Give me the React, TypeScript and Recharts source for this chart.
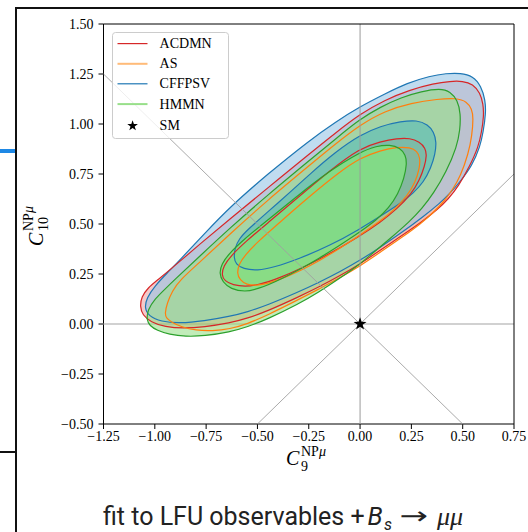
import React from 'react';
import { ScatterChart, Scatter, XAxis, YAxis, Legend, Curve } from 'recharts';

type Pt = [number, number];

// ---------- data ----------
const X_TICKS = [-1.25, -1.0, -0.75, -0.5, -0.25, 0, 0.25, 0.5, 0.75];
const Y_TICKS = [-0.5, -0.25, 0, 0.25, 0.5, 0.75, 1.0, 1.25, 1.5];
const X_DOMAIN: [number, number] = [-1.25, 0.75];
const Y_DOMAIN: [number, number] = [-0.5, 1.5];

const LEGEND_LABELS = ['ACDMN', 'AS', 'CFFPSV', 'HMMN', 'SM'];
const SM_POINT: Pt[] = [[0, 0]];

// guide lines through the SM point
const H_LINE: Pt[] = [[-1.25, 0], [0.75, 0]];
const V_LINE: Pt[] = [[0, -0.5], [0, 1.5]];
const DIAG_DOWN: Pt[] = [[-1.25, 1.25], [0.5, -0.5]];
const DIAG_UP: Pt[] = [[-0.5, -0.5], [0.75, 0.75]];
const FRAME: Pt[] = [[-1.25, 1.5], [0.75, 1.5], [0.75, -0.5]];

// 2 sigma contours
const CFFPSV_2S: Pt[] = [
  [-1.05, 0.08], [-1.04, 0.13], [-1.0, 0.19], [-0.94, 0.255], [-0.878, 0.32], [-0.76, 0.45],
  [-0.634, 0.585], [-0.45, 0.75], [-0.244, 0.92], [-0.12, 1.01], [0, 1.087], [0.12, 1.15],
  [0.23, 1.205], [0.34, 1.24], [0.42, 1.253], [0.49, 1.255], [0.55, 1.24], [0.59, 1.19],
  [0.61, 1.12], [0.613, 1.055], [0.6, 0.96], [0.585, 0.887], [0.545, 0.79], [0.49, 0.715],
  [0.44, 0.655], [0.39, 0.605], [0.3, 0.53], [0.2, 0.455], [0.1, 0.385], [0, 0.318],
  [-0.1, 0.26], [-0.2, 0.208], [-0.3, 0.16], [-0.45, 0.095], [-0.55, 0.06], [-0.634, 0.038],
  [-0.76, 0.015], [-0.88, 0.003], [-0.97, 0.012], [-1.03, 0.04],
];
const ACDMN_2S: Pt[] = [
  [-1.072, 0.087], [-1.065, 0.135], [-1.035, 0.18], [-0.98, 0.225], [-0.91, 0.285], [-0.78, 0.4],
  [-0.634, 0.525], [-0.45, 0.68], [-0.244, 0.853], [-0.12, 0.955], [0, 1.05], [0.12, 1.12],
  [0.24, 1.17], [0.36, 1.203], [0.44, 1.214], [0.5, 1.215], [0.55, 1.2], [0.585, 1.155],
  [0.6, 1.1], [0.603, 1.04], [0.592, 0.96], [0.577, 0.887], [0.535, 0.79], [0.48, 0.69],
  [0.43, 0.625], [0.38, 0.575], [0.3, 0.51], [0.2, 0.44], [0.1, 0.37], [0, 0.3],
  [-0.1, 0.24], [-0.2, 0.185], [-0.3, 0.135], [-0.45, 0.065], [-0.55, 0.028], [-0.634, 0.005],
  [-0.76, -0.015], [-0.86, -0.022], [-0.95, -0.015], [-1.02, 0.01], [-1.06, 0.045],
];
const AS_2S: Pt[] = [
  [-0.951, 0.053], [-0.94, 0.105], [-0.915, 0.165], [-0.878, 0.22], [-0.78, 0.31], [-0.634, 0.45],
  [-0.45, 0.62], [-0.244, 0.795], [-0.12, 0.9], [0, 0.995], [0.12, 1.065], [0.25, 1.105],
  [0.38, 1.125], [0.47, 1.13], [0.52, 1.112], [0.545, 1.075], [0.552, 1.03], [0.545, 0.94],
  [0.528, 0.853], [0.49, 0.74], [0.45, 0.67], [0.41, 0.615], [0.36, 0.56], [0.3, 0.505],
  [0.2, 0.43], [0.1, 0.36], [0, 0.29], [-0.1, 0.23], [-0.2, 0.175], [-0.3, 0.122],
  [-0.45, 0.045], [-0.55, 0.0], [-0.634, -0.025], [-0.72, -0.035], [-0.8, -0.032], [-0.87, -0.015],
  [-0.92, 0.01], [-0.945, 0.03],
];
const HMMN_2S: Pt[] = [
  [-1.04, 0.02], [-1.035, 0.07], [-1.0, 0.125], [-0.95, 0.175], [-0.91, 0.215], [-0.78, 0.34],
  [-0.634, 0.48], [-0.45, 0.645], [-0.244, 0.82], [-0.12, 0.925], [0, 1.025], [0.1, 1.085],
  [0.2, 1.133], [0.3, 1.163], [0.39, 1.178], [0.44, 1.162], [0.475, 1.118], [0.49, 1.053],
  [0.487, 0.97], [0.472, 0.887], [0.42, 0.76], [0.358, 0.653], [0.3, 0.575], [0.244, 0.515],
  [0.15, 0.43], [0.05, 0.345], [0, 0.3], [-0.1, 0.228], [-0.2, 0.16], [-0.3, 0.1],
  [-0.45, 0.025], [-0.55, -0.015], [-0.634, -0.04], [-0.76, -0.06], [-0.85, -0.063],
  [-0.93, -0.052], [-0.99, -0.032], [-1.025, -0.008],
];

// 1 sigma contours
const CFFPSV_1S: Pt[] = [
  [-0.615, 0.33], [-0.61, 0.38], [-0.59, 0.425], [-0.55, 0.47], [-0.45, 0.56], [-0.34, 0.66],
  [-0.244, 0.75], [-0.12, 0.86], [0, 0.945], [0.1, 0.99], [0.2, 1.013], [0.277, 1.02],
  [0.33, 0.997], [0.36, 0.96], [0.372, 0.91], [0.366, 0.85], [0.345, 0.78], [0.31, 0.71],
  [0.26, 0.655], [0.2, 0.605], [0.1, 0.54], [0, 0.475], [-0.15, 0.39], [-0.3, 0.325],
  [-0.42, 0.283], [-0.5, 0.267], [-0.57, 0.275], [-0.605, 0.3],
];
const ACDMN_1S: Pt[] = [
  [-0.675, 0.245], [-0.665, 0.29], [-0.63, 0.34], [-0.56, 0.41], [-0.45, 0.505], [-0.3, 0.635],
  [-0.15, 0.765], [0, 0.88], [0.1, 0.912], [0.18, 0.928], [0.244, 0.93], [0.29, 0.91],
  [0.318, 0.88], [0.325, 0.845], [0.315, 0.79], [0.29, 0.72], [0.25, 0.65], [0.18, 0.575],
  [0.1, 0.51], [0, 0.44], [-0.2, 0.32], [-0.4, 0.225], [-0.5, 0.195], [-0.56, 0.187],
  [-0.62, 0.195], [-0.66, 0.215],
];
const AS_1S: Pt[] = [
  [-0.6, 0.253], [-0.59, 0.3], [-0.56, 0.345], [-0.5, 0.41], [-0.4, 0.5], [-0.25, 0.635],
  [-0.1, 0.76], [0, 0.83], [0.1, 0.868], [0.18, 0.885], [0.244, 0.883], [0.278, 0.865],
  [0.293, 0.83], [0.29, 0.78], [0.27, 0.71], [0.23, 0.64], [0.17, 0.575], [0.1, 0.515],
  [0, 0.445], [-0.2, 0.31], [-0.4, 0.215], [-0.5, 0.19], [-0.555, 0.197], [-0.585, 0.22],
];
const HMMN_1S: Pt[] = [
  [-0.686, 0.253], [-0.675, 0.3], [-0.64, 0.35], [-0.57, 0.42], [-0.45, 0.52], [-0.3, 0.645],
  [-0.15, 0.765], [0, 0.86], [0.08, 0.89], [0.146, 0.897], [0.195, 0.88], [0.222, 0.845],
  [0.228, 0.8], [0.215, 0.73], [0.185, 0.65], [0.14, 0.58], [0.08, 0.52], [0, 0.46],
  [-0.2, 0.325], [-0.4, 0.215], [-0.5, 0.175], [-0.56, 0.16], [-0.63, 0.175], [-0.67, 0.21],
];

// ---------- styles ----------
const C_RED = '#d62728';
const C_ORANGE = '#ff7f0e';
const C_BLUE = '#1f77b4';
const C_GREEN = '#2ca02c';
const LEGEND_COLORS = ['#d62728', '#ffbb78', '#1f77b4', '#98df8a', '#000000'];
const LEGEND_WIDTHS = [1.2, 2, 1.2, 2, 0];

const SERIF = "'Liberation Serif', 'DejaVu Serif', serif";
const SANS = "Roboto, 'Noto Sans', sans-serif";

const toObjs = (a: Pt[]) => a.map(([x, y]) => ({ x, y }));

const fillLine = (fill: string) => (p: any) => (
  <Curve points={p.points} type="basisClosed" fill={fill} stroke="none" />
);
const strokeLine = (stroke: string, w: number) => (p: any) => (
  <Curve points={p.points} type="basisClosed" fill="none" stroke={stroke} strokeWidth={w} />
);
const segLine = (stroke: string, w: number) => (p: any) => (
  <Curve points={p.points} type="linear" fill="none" stroke={stroke} strokeWidth={w} />
);
const NoShape = () => <g />;

const starPoints = (cx: number, cy: number, R: number, r: number) => {
  const pts: string[] = [];
  for (let i = 0; i < 10; i++) {
    const a = -Math.PI / 2 + (i * Math.PI) / 5;
    const rad = i % 2 === 0 ? R : r;
    pts.push(`${(cx + rad * Math.cos(a)).toFixed(2)},${(cy + rad * Math.sin(a)).toFixed(2)}`);
  }
  return pts.join(' ');
};
const StarShape = (p: any) => <polygon points={starPoints(p.cx, p.cy, 6.8, 2.7)} fill="#000" />;

const fmt = (v: number) => (v < 0 ? '\u2212' : '') + Math.abs(v).toFixed(2);

const XLabel = () => {
  const x0 = 286;
  const base = 465;
  return (
    <g fontFamily={SERIF} fill="#000">
      <text x={x0} y={base} fontSize={20} fontStyle="italic">C</text>
      <text x={x0 + 15} y={base - 9} fontSize={14}>NP<tspan fontStyle="italic">μ</tspan></text>
      <text x={x0 + 15} y={base + 6} fontSize={14}>9</text>
    </g>
  );
};

const YLabel = () => (
  <g transform="translate(43, 246) rotate(-90)" fontFamily={SERIF} fill="#000">
    <text x={0} y={0} fontSize={20} fontStyle="italic">C</text>
    <text x={15} y={-10} fontSize={14}>NP<tspan fontStyle="italic">μ</tspan></text>
    <text x={15} y={5} fontSize={14}>10</text>
  </g>
);

const ROW_Y = [11.6, 31.8, 51.8, 72.1, 93.8];

const LegendBox = () => (
  <svg width={118} height={108} style={{ display: 'block' }}>
    <rect x={0.5} y={0.5} width={116} height={106} rx={3} ry={3} fill="#ffffff" fillOpacity={0.8} stroke="#cccccc" strokeWidth={1} />
    {LEGEND_LABELS.map((lab, i) => (
      <g key={lab}>
        {i < 4 ? (
          <line x1={5.5} x2={35.5} y1={ROW_Y[i]} y2={ROW_Y[i]} stroke={LEGEND_COLORS[i]} strokeWidth={LEGEND_WIDTHS[i]} />
        ) : (
          <polygon points={starPoints(20.6, ROW_Y[i], 5.6, 2.2)} fill="#000" />
        )}
        <text x={47.6} y={ROW_Y[i] + 4.6} fontFamily={SERIF} fontSize={14} fill="#000">{lab}</text>
      </g>
    ))}
  </svg>
);

export default function App() {
  return (
    <div style={{ position: 'absolute', left: 0, top: 0, width: 528, height: 532, overflow: 'hidden', background: '#fff' }}>
      <div style={{ position: 'absolute', left: 0, top: 0 }}>
        <ScatterChart width={528} height={532} margin={{ top: 24, right: 14, left: 43.5, bottom: 78 }}>
          <XAxis
            type="number"
            dataKey="x"
            domain={X_DOMAIN}
            ticks={X_TICKS}
            interval={0}
            tickFormatter={fmt}
            tick={{ fontFamily: SERIF, fontSize: 14, fill: '#000' }}
            tickSize={5}
            tickMargin={2}
            axisLine={{ stroke: '#000', strokeWidth: 1 }}
            tickLine={{ stroke: '#000', strokeWidth: 1 }}
            height={30}
            label={<XLabel />}
          />
          <YAxis
            type="number"
            dataKey="y"
            domain={Y_DOMAIN}
            ticks={Y_TICKS}
            interval={0}
            tickFormatter={fmt}
            tick={{ fontFamily: SERIF, fontSize: 14, fill: '#000' }}
            tickSize={5}
            tickMargin={5}
            axisLine={{ stroke: '#000', strokeWidth: 1 }}
            tickLine={{ stroke: '#000', strokeWidth: 1 }}
            width={60}
            label={<YLabel />}
          />
          <Legend
            layout="vertical"
            align="center"
            verticalAlign="middle"
            wrapperStyle={{ left: 111.7, top: 31.7, width: 118, height: 108 }}
            content={() => <LegendBox />}
          />

          <Scatter data={toObjs(H_LINE)} line={segLine('#c2c2c2', 1.6)} shape={NoShape} isAnimationActive={false} legendType="none" />

          <Scatter data={toObjs(ACDMN_2S)} line={fillLine('rgba(214,39,40,0.25)')} shape={NoShape} isAnimationActive={false} legendType="none" />
          <Scatter data={toObjs(AS_2S)} line={fillLine('rgba(255,127,14,0.15)')} shape={NoShape} isAnimationActive={false} legendType="none" />
          <Scatter data={toObjs(CFFPSV_2S)} line={fillLine('rgba(150,197,230,0.6)')} shape={NoShape} isAnimationActive={false} legendType="none" />
          <Scatter data={toObjs(HMMN_2S)} line={fillLine('rgba(152,223,138,0.6)')} shape={NoShape} isAnimationActive={false} legendType="none" />
          <Scatter data={toObjs(CFFPSV_1S)} line={fillLine('rgba(60,180,190,0.45)')} shape={NoShape} isAnimationActive={false} legendType="none" />
          <Scatter data={toObjs(ACDMN_1S)} line={fillLine('rgba(214,39,40,0.06)')} shape={NoShape} isAnimationActive={false} legendType="none" />
          <Scatter data={toObjs(AS_1S)} line={fillLine('rgba(255,127,14,0.06)')} shape={NoShape} isAnimationActive={false} legendType="none" />
          <Scatter data={toObjs(HMMN_1S)} line={fillLine('rgba(130,225,130,0.85)')} shape={NoShape} isAnimationActive={false} legendType="none" />

          <Scatter data={toObjs(CFFPSV_2S)} line={strokeLine(C_BLUE, 1.2)} shape={NoShape} isAnimationActive={false} legendType="none" />
          <Scatter data={toObjs(ACDMN_2S)} line={strokeLine(C_RED, 1.2)} shape={NoShape} isAnimationActive={false} legendType="none" />
          <Scatter data={toObjs(AS_2S)} line={strokeLine(C_ORANGE, 1.2)} shape={NoShape} isAnimationActive={false} legendType="none" />
          <Scatter data={toObjs(HMMN_2S)} line={strokeLine(C_GREEN, 1.2)} shape={NoShape} isAnimationActive={false} legendType="none" />
          <Scatter data={toObjs(CFFPSV_1S)} line={strokeLine(C_BLUE, 1.2)} shape={NoShape} isAnimationActive={false} legendType="none" />
          <Scatter data={toObjs(ACDMN_1S)} line={strokeLine(C_RED, 1.2)} shape={NoShape} isAnimationActive={false} legendType="none" />
          <Scatter data={toObjs(AS_1S)} line={strokeLine(C_ORANGE, 1.2)} shape={NoShape} isAnimationActive={false} legendType="none" />
          <Scatter data={toObjs(HMMN_1S)} line={strokeLine(C_GREEN, 1.2)} shape={NoShape} isAnimationActive={false} legendType="none" />

          <Scatter data={toObjs(V_LINE)} line={segLine('#9a9a9a', 1)} shape={NoShape} isAnimationActive={false} legendType="none" />
          <Scatter data={toObjs(DIAG_DOWN)} line={segLine('#a0a0a0', 0.9)} shape={NoShape} isAnimationActive={false} legendType="none" />
          <Scatter data={toObjs(DIAG_UP)} line={segLine('#a0a0a0', 0.9)} shape={NoShape} isAnimationActive={false} legendType="none" />
          <Scatter data={toObjs(FRAME)} line={segLine('#000', 1)} shape={NoShape} isAnimationActive={false} legendType="none" />
          <Scatter data={toObjs(SM_POINT)} shape={StarShape} isAnimationActive={false} legendType="none" />
        </ScatterChart>
      </div>

      {/* slide decorations */}
      <div style={{ position: 'absolute', left: 15, top: 7, width: 513, height: 2, background: '#111' }} />
      <div style={{ position: 'absolute', left: 15, top: 7, width: 2, height: 525, background: '#111' }} />
      <div style={{ position: 'absolute', left: 0, top: 451, width: 16, height: 2, background: '#111' }} />
      <div style={{ position: 'absolute', left: 0, top: 149, width: 15, height: 4, background: '#1e88e5' }} />

      <svg width={528} height={532} style={{ position: 'absolute', left: 0, top: 0, pointerEvents: 'none' }}>
        <text x={103} y={525} fontFamily={SANS} fontSize={25} fill="#222">
          fit to LFU observables +
        </text>
        <text x={367.5} y={525} fontFamily={SANS} fontSize={25} fontStyle="italic" fill="#222">B</text>
        <text x={384} y={529.5} fontFamily={SANS} fontSize={16} fontStyle="italic" fill="#222">s</text>
        <text x={399.5} y={524} fontFamily="'DejaVu Sans', sans-serif" fontSize={24} fill="#222" textLength={28.5} lengthAdjust="spacingAndGlyphs">→</text>
        <text x={437} y={525} fontFamily={SERIF} fontSize={26} fontStyle="italic" fill="#222">μμ</text>
      </svg>
    </div>
  );
}
